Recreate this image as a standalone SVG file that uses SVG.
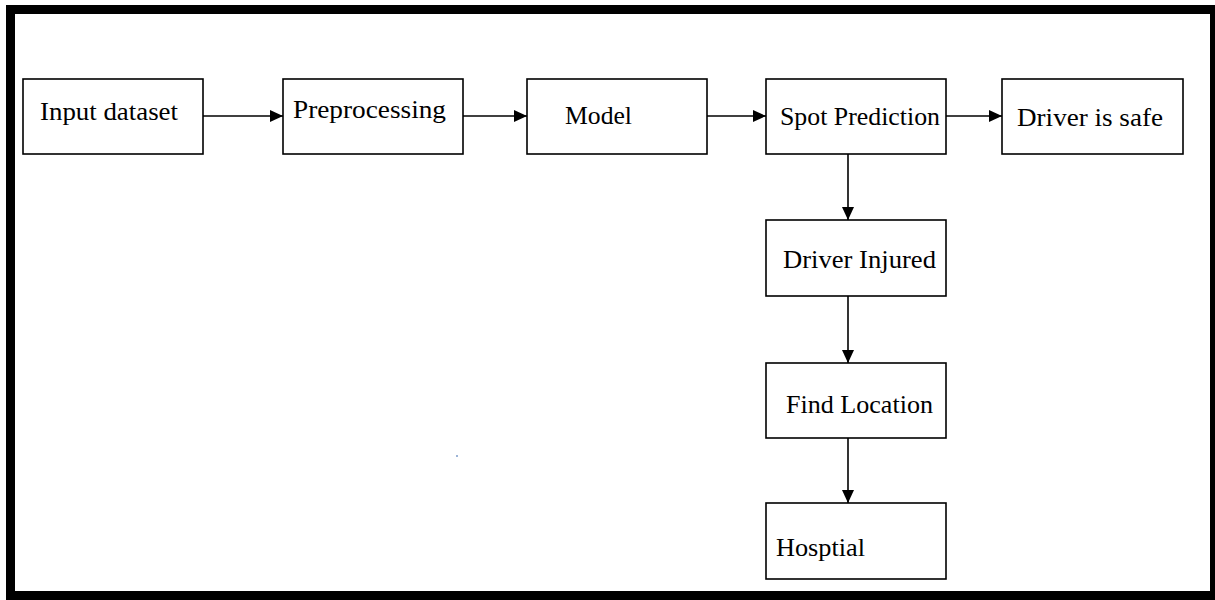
<svg xmlns="http://www.w3.org/2000/svg" width="1215" height="600" viewBox="0 0 1215 600">
<style>
.box{fill:#fff;stroke:#000;stroke-width:1.6}
.lbl{font-family:'Liberation Serif','DejaVu Serif','Times New Roman',Times,serif;font-size:25px;fill:#000}
.edge{stroke:#000;stroke-width:1.6;fill:none}
</style>
<defs>
<marker id="ah" viewBox="0 0 13 12" refX="13" refY="6" markerWidth="13" markerHeight="12" markerUnits="userSpaceOnUse" orient="auto">
<path d="M0,0 L13,6 L0,12 Z" fill="#000"/>
</marker>
</defs>
<rect x="0" y="0" width="1215" height="600" fill="#fff"/>
<path d="M6,5 H1215 V600 H6 Z M15,14 V591 H1210 V14 Z" fill="#000" fill-rule="evenodd"/>
<g font-family="Liberation Serif, serif">
<g id="n-input"><rect class="box" x="23" y="79" width="180" height="75"/><text class="lbl" x="40" y="120" textLength="138" lengthAdjust="spacingAndGlyphs">Input dataset</text></g>
<g id="n-pre"><rect class="box" x="283" y="79" width="180" height="75"/><text class="lbl" x="293" y="118" textLength="153" lengthAdjust="spacingAndGlyphs">Preprocessing</text></g>
<g id="n-model"><rect class="box" x="527" y="79" width="180" height="75"/><text class="lbl" x="565" y="124" textLength="67" lengthAdjust="spacingAndGlyphs">Model</text></g>
<g id="n-spot"><rect class="box" x="766" y="79" width="180" height="75"/><text class="lbl" x="780" y="125" textLength="160" lengthAdjust="spacingAndGlyphs">Spot Prediction</text></g>
<g id="n-safe"><rect class="box" x="1002" y="79" width="181" height="75"/><text class="lbl" x="1017" y="126" textLength="146" lengthAdjust="spacingAndGlyphs">Driver is safe</text></g>
<g id="n-injured"><rect class="box" x="766" y="220" width="180" height="76"/><text class="lbl" x="783" y="268" textLength="153" lengthAdjust="spacingAndGlyphs">Driver Injured</text></g>
<g id="n-location"><rect class="box" x="766" y="363" width="180" height="75"/><text class="lbl" x="786" y="413" textLength="147" lengthAdjust="spacingAndGlyphs">Find Location</text></g>
<g id="n-hospital"><rect class="box" x="766" y="503" width="180" height="76"/><text class="lbl" x="776" y="556" textLength="89" lengthAdjust="spacingAndGlyphs">Hosptial</text></g>
</g>
<g id="connectors">
<line class="edge" x1="203" y1="116" x2="283" y2="116" marker-end="url(#ah)"/>
<line class="edge" x1="463" y1="116" x2="527" y2="116" marker-end="url(#ah)"/>
<line class="edge" x1="707" y1="116" x2="766" y2="116" marker-end="url(#ah)"/>
<line class="edge" x1="946" y1="116" x2="1002" y2="116" marker-end="url(#ah)"/>
<line class="edge" x1="848" y1="154" x2="848" y2="220" marker-end="url(#ah)"/>
<line class="edge" x1="848" y1="296" x2="848" y2="363" marker-end="url(#ah)"/>
<line class="edge" x1="848" y1="438" x2="848" y2="503" marker-end="url(#ah)"/>
</g>
<rect x="456.5" y="455" width="1" height="2" fill="#3a6ab0"/>
</svg>
